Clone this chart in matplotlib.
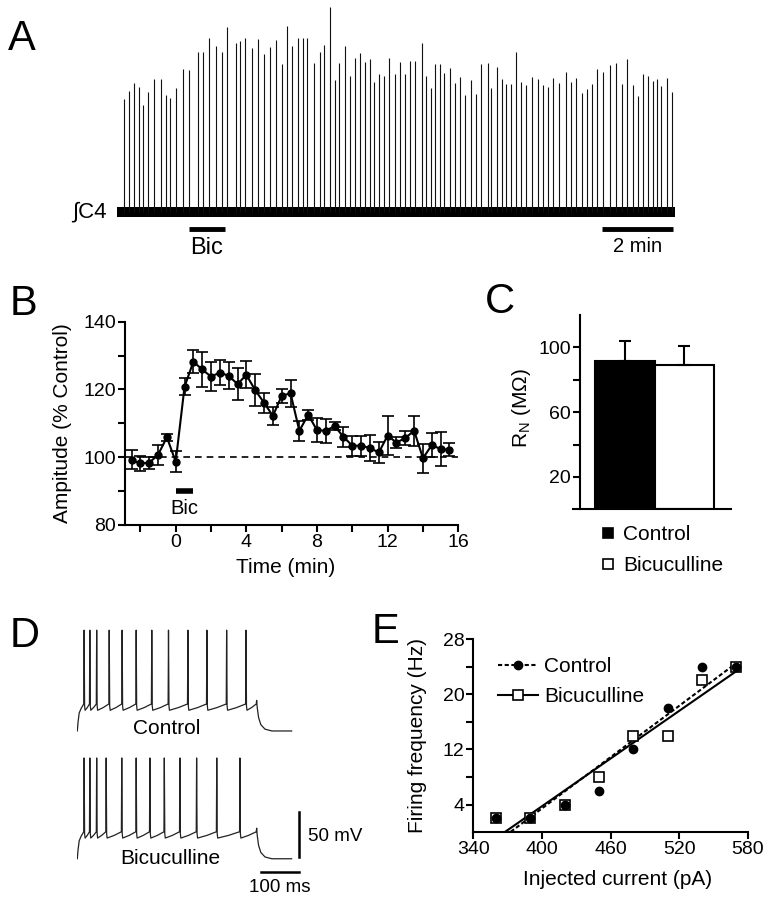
import numpy as np
import matplotlib
matplotlib.use("Agg")
import matplotlib.pyplot as plt
from matplotlib.lines import Line2D

plt.rcParams['font.family'] = ['Liberation Sans', 'DejaVu Sans']
plt.rcParams['axes.linewidth'] = 1.5
plt.rcParams['mathtext.default'] = 'regular'

W, H = 774, 899

# ---- A: integrated C4 bursts (time in min, amplitude in a.u.) ----
burst_t = [0.18, 0.34, 0.47, 0.61, 0.73, 0.87, 1.03, 1.21, 1.35, 1.48, 1.64, 1.84, 2.00,
           2.25, 2.40, 2.57, 2.76, 2.92, 3.07, 3.32, 3.43, 3.57, 3.75, 3.92, 4.11, 4.27,
           4.43, 4.59, 4.73, 4.89, 5.04, 5.18, 5.31,
           5.49, 5.67, 5.78, 5.94, 6.08, 6.19, 6.36, 6.50, 6.64, 6.79, 6.92, 7.06, 7.18,
           7.32, 7.46, 7.59, 7.76, 7.90, 8.04, 8.18, 8.32, 8.50, 8.63, 8.75, 8.88, 9.01,
           9.13, 9.29, 9.44, 9.57, 9.70, 9.87, 10.02, 10.17, 10.35,
           10.44, 10.60, 10.74, 10.87, 11.00, 11.13, 11.28, 11.41, 11.58, 11.75, 11.90,
           12.04, 12.18, 12.34, 12.53, 12.67, 12.82, 12.98, 13.13, 13.27, 13.40, 13.58,
           13.77, 13.93, 14.11, 14.23, 14.40, 14.54, 14.69, 14.82, 14.96, 15.08, 15.19,
           15.35, 15.49]
burst_amp = [113, 121, 129, 125, 107, 120, 133, 133, 117, 114, 124, 143, 142, 160, 160,
             174, 166, 160, 185, 169, 171, 174, 164, 173, 158, 165, 172, 148, 186, 166,
             174, 174, 174,
             149, 160, 167, 205, 132, 149, 166, 136, 154, 159, 150, 153, 130, 138, 136,
             154, 138, 150, 138, 151, 151, 169, 136, 124, 148, 148, 139, 144, 129, 135,
             117, 132, 118, 148, 149,
             124, 145, 133, 128, 128, 160, 130, 127, 135, 133, 127, 125, 134, 129, 140,
             130, 134, 119, 123, 128, 143, 140, 147, 149, 128, 153, 127, 116, 138, 136,
             131, 133, 126, 134, 120]
trace_end_a = 15.58
bic_a = [2.0, 3.0]

# ---- B: burst amplitude time course ----
time_b = [-2.5, -2.0, -1.5, -1.0, -0.5, 0.0, 0.5, 1.0, 1.5, 2.0, 2.5, 3.0, 3.5, 4.0,
          4.5, 5.0, 5.5, 6.0, 6.5, 7.0, 7.5, 8.0, 8.5, 9.0, 9.5, 10.0, 10.5, 11.0, 11.5,
          12.0, 12.5, 13.0, 13.5, 14.0, 14.5, 15.0, 15.5]
amp_b = [99.2, 98.2, 98.4, 100.7, 105.9, 98.7, 120.8, 128.2, 125.9, 123.8, 125.0, 124.0,
         121.6, 124.3, 119.8, 116.1, 112.2, 118.1, 118.9, 107.8, 112.5, 108.0, 107.8,
         109.2, 106.0, 103.4, 103.4, 102.7, 101.4, 106.4, 104.3, 105.7, 107.8, 99.7,
         103.6, 102.4, 102.2]
err_b = [2.8, 2.3, 1.8, 3.0, 1.1, 3.0, 2.5, 3.4, 5.2, 4.3, 3.7, 4.0, 4.6, 4.0, 4.7, 2.9,
         2.6, 2.1, 4.0, 3.0, 1.5, 3.5, 3.5, 1.3, 3.0, 3.0, 3.0, 3.9, 3.2, 5.7, 1.7, 2.1,
         4.5, 4.3, 3.5, 4.9, 1.9]
bic_b = [0, 1]

# ---- C: input resistance ----
groups_c = ['Control', 'Bicuculline']
rn = [91.8, 89.3]
rn_err = [12.3, 11.7]

# ---- D: voltage traces (ms, mV) ----
spikes_ctrl = [18, 33, 51, 84, 118, 155, 196, 240, 291, 341, 393, 444]
spikes_bic = [18, 33, 51, 76, 117, 155, 191, 229, 270, 314, 367, 428]
v_rest, v_thr, v_ahp, v_peak = -70, -40, -47, 42
step_off, t_end = 472, 564
bic_offset = -142

# ---- E: f-I relation ----
current = [360, 390, 420, 450, 480, 510, 540, 570]
freq_ctrl = [2, 2, 4, 6, 12, 18, 24, 24]
freq_bic = [2, 2, 4, 8, 14, 14, 22, 24]


def px(l, t, r, b):
    return [l / W, 1 - b / H, (r - l) / W, (b - t) / H]


def letter(x, y, s):
    fig.text(x / W, 1 - y / H, s, fontsize=30, va='baseline', ha='left')


def style(ax):
    ax.spines['top'].set_visible(False)
    ax.spines['right'].set_visible(False)
    ax.tick_params(which='both', direction='out', length=5, width=1.5, labelsize=14, pad=1.5)


def trace(spikes):
    t = [0, 2, 5, 10]
    v = [v_rest, -60, -50, -45]
    for i, s in enumerate(spikes):
        t += [s - 1.0, s, s + 1.2, s + 2.5]
        v += [v_thr, v_peak, v_thr - 2, v_ahp]
        nxt = spikes[i + 1] if i + 1 < len(spikes) else step_off
        t.append(s + 2.5 + 0.5 * (nxt - s - 3.5))
        v.append(v_ahp + 3)
    t += [step_off - 1, step_off, step_off + 1.5, step_off + 5, step_off + 11,
          step_off + 22, step_off + 40, t_end]
    v += [v_thr, -36, -44, -55, -63, -68, v_rest, v_rest]
    return np.array(t), np.array(v)


fig = plt.figure(figsize=(W / 100, H / 100), dpi=100)

# ---------- A ----------
ax_a = fig.add_axes(px(117.3, 0, 675, 270))
ax_a.set_xlim(0, trace_end_a)
ax_a.set_ylim(-58, 212)
ax_a.axis('off')
ax_a.vlines(burst_t, 0, burst_amp, color='#111111', lw=0.8)
ax_a.fill_between([0, trace_end_a], -5, 5, color='black', lw=0)
ax_a.plot(bic_a, [-17, -17], color='k', lw=3.5, solid_capstyle='butt')
ax_a.text(np.mean(bic_a), -36, 'Bic', fontsize=17, ha='center', va='center')
ax_a.plot([13.53, 15.53], [-17, -17], color='k', lw=3.5, solid_capstyle='butt')
ax_a.text(14.53, -34, '2 min', fontsize=14.5, ha='center', va='center')
ax_a.text(-0.3, 0, '∫C4', fontsize=16, ha='right', va='center')
letter(8, 50, 'A')

# ---------- B ----------
ax_b = fig.add_axes(px(125.2, 321.7, 458.3, 525))
style(ax_b)
ax_b.axhline(100, color='k', lw=1.2, ls=(0, (4, 3)))
ax_b.errorbar(time_b, amp_b, yerr=err_b, fmt='-o', color='k', ms=5, lw=1.5,
              capsize=4, elinewidth=1.2, capthick=1.2)
ax_b.plot(bic_b, [90, 90], color='k', lw=4, solid_capstyle='butt')
ax_b.text(0.5, 85, 'Bic', fontsize=14.5, ha='center', va='center')
ax_b.set_xlim(-2.86, 16)
ax_b.set_ylim(80, 140)
ax_b.set_xticks([0, 4, 8, 12, 16])
ax_b.set_xticks([-2, 2, 6, 10, 14], minor=True)
ax_b.set_yticks([80, 100, 120, 140])
ax_b.set_yticks([90, 110, 130], minor=True)
ax_b.set_xlabel('Time (min)', fontsize=15, va='center')
ax_b.set_ylabel('Ampitude (% Control)', fontsize=15)
ax_b.xaxis.set_label_coords(0.483, -0.21)
ax_b.yaxis.set_label_coords(-0.16, 0.5)
letter(10, 315, 'B')

# ---------- C ----------
ax_c = fig.add_axes(px(573.3, 315, 731, 509.3))
style(ax_c)
ax_c.spines['left'].set_position(('axes', 0.0425))
ax_c.bar([0, 1], rn, width=1, color=['black', 'white'], edgecolor='black', lw=1.5)
ax_c.errorbar([0, 1], rn, yerr=[[0, 0], rn_err], fmt='none', ecolor='k',
              capsize=4, elinewidth=1.5, capthick=1.5)
ax_c.set_xlim(-0.864, 1.78)
ax_c.set_ylim(0, 120)
ax_c.set_xticks([])
ax_c.set_yticks([20, 40, 60, 80, 100])
ax_c.set_yticklabels(['20', '', '60', '', '100'])
ax_c.set_ylabel(r'R$_N$ (MΩ)', fontsize=15)
ax_c.yaxis.set_label_coords(-0.256, 0.52)
h_c = [Line2D([], [], ls='none', marker='s', ms=7.5, mfc=c, mec='k', mew=1.2)
       for c in ['black', 'white']]
ax_c.legend(h_c, groups_c, loc='upper left', bbox_to_anchor=(600 / W, 1 - 525 / H),
            bbox_transform=fig.transFigure, frameon=False, fontsize=15, borderpad=0,
            borderaxespad=0, handlelength=0.8, handletextpad=0.3, labelspacing=0.58)
letter(485, 313, 'C')

# ---------- D ----------
ax_d = fig.add_axes(px(77.3, 620, 380, 899))
ax_d.set_xlim(0, 796.6)
ax_d.set_ylim(-256.7, 53.3)
ax_d.axis('off')
tc, vc = trace(spikes_ctrl)
ax_d.plot(tc, vc, color='#222222', lw=0.9)
tb, vb = trace(spikes_bic)
ax_d.plot(tb, vb + bic_offset, color='#222222', lw=0.9)
ax_d.text(235, -67.8, 'Control', fontsize=15, ha='center', va='center')
ax_d.text(244, v_rest + bic_offset, 'Bicuculline', fontsize=15, ha='center', va='center')
ax_d.plot([583, 583], [-160, -210], color='k', lw=1.8)
ax_d.text(607, -187.4, '50 mV', fontsize=13.5, ha='left', va='center')
ax_d.plot([483, 583], [-226.7, -226.7], color='k', lw=1.8)
ax_d.text(533, -244, '100 ms', fontsize=13.5, ha='center', va='center')
letter(10, 647, 'D')

# ---------- E ----------
ax_e = fig.add_axes(px(473.3, 639, 747.7, 832.3))
style(ax_e)
xf = np.array([340, 570])
pc = np.polyfit(current, freq_ctrl, 1)
pb = np.polyfit(current, freq_bic, 1)
ax_e.plot(xf, np.polyval(pb, xf), color='k', lw=1.5)
ax_e.plot(xf, np.polyval(pc, xf), color='k', lw=1.5, ls=(0, (2, 1.2)))
ax_e.plot(current, freq_bic, 's', ms=6.5, mfc='white', mec='k', mew=1.2, clip_on=False)
ax_e.plot(current, freq_ctrl, 'o', ms=6, color='k', clip_on=False)
ax_e.set_xlim(340, 580)
ax_e.set_ylim(0, 28)
ax_e.set_xticks([340, 400, 460, 520, 580])
ax_e.set_yticks([4, 12, 20, 28])
ax_e.set_yticks([8, 16, 24], minor=True)
ax_e.set_xlabel('Injected current (pA)', fontsize=15)
ax_e.set_ylabel('Firing frequency (Hz)', fontsize=15)
ax_e.xaxis.set_label_coords(0.527, -0.195)
ax_e.yaxis.set_label_coords(-0.169, 0.5)
h_e = [Line2D([], [], color='k', lw=1.5, ls=(0, (2, 1.2)), marker='o', ms=6),
       Line2D([], [], color='k', lw=1.5, marker='s', ms=6.5, mfc='white', mew=1.2)]
ax_e.legend(h_e, groups_c, loc='upper left', bbox_to_anchor=(498 / W, 1 - 657 / H),
            bbox_transform=fig.transFigure, frameon=False, fontsize=15, borderpad=0,
            borderaxespad=0, handlelength=1.9, handletextpad=0.3, labelspacing=0.54)
letter(372, 643, 'E')

fig.savefig('out.png', dpi=100)
